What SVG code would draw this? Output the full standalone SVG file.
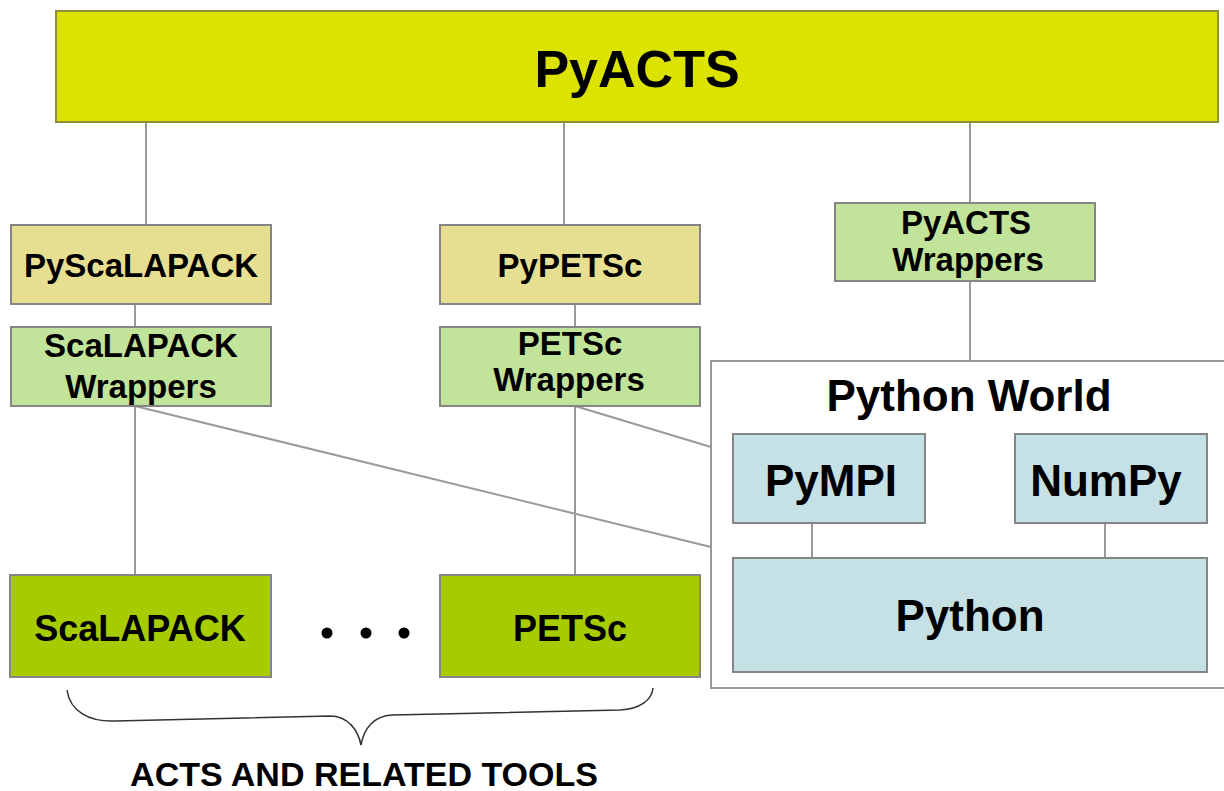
<svg xmlns="http://www.w3.org/2000/svg" width="1224" height="791" viewBox="0 0 1224 791">
<style>
.box{stroke:#858585;stroke-width:2}
.top{fill:#dce300;stroke:#8f8f3a;stroke-width:2}
.py{fill:#e6df91}
.wr{fill:#c2e49a}
.tool{fill:#a6cc00}
.pw{fill:#c5e1e5}
.world{fill:#ffffff;stroke:#9a9a9a;stroke-width:2}
.conn line, .conn path{stroke:#9a9a9a;stroke-width:2;fill:none}
text{font-family:"Liberation Sans",Arial,sans-serif;font-weight:bold;fill:#000;text-anchor:middle}
.t33{font-size:33px}
.t36{font-size:36px}
.t44{font-size:44px}
</style>
<rect width="1224" height="791" fill="#ffffff"/>
<g id="python-world">
<rect class="world" x="711" y="361" width="520" height="327"/>
<text class="t44" x="969" y="411">Python World</text>
</g>
<g class="conn" id="connectors">
<line x1="146" y1="123" x2="146" y2="225"/>
<line x1="564" y1="123" x2="564" y2="225"/>
<line x1="970" y1="123" x2="970" y2="203"/>
<line x1="135" y1="304" x2="135" y2="327"/>
<line x1="575" y1="304" x2="575" y2="327"/>
<line x1="135" y1="406" x2="135" y2="575"/>
<line x1="575" y1="406" x2="575" y2="575"/>
<line x1="970" y1="281" x2="970" y2="361"/>
<line x1="135" y1="406" x2="711" y2="547"/>
<line x1="575" y1="406" x2="711" y2="447"/>
<line x1="812" y1="523" x2="812" y2="558"/>
<line x1="1105" y1="523" x2="1105" y2="558"/>
</g>
<g id="pyacts">
<rect class="top" x="56" y="11" width="1162" height="111"/>
<text x="637" y="87" style="font-size:52px">PyACTS</text>
</g>
<g id="pyscalapack">
<rect class="box py" x="11" y="225" width="260" height="79"/>
<text class="t33" x="141" y="277">PyScaLAPACK</text>
</g>
<g id="pypetsc">
<rect class="box py" x="440" y="225" width="260" height="79"/>
<text class="t33" x="570" y="277">PyPETSc</text>
</g>
<g id="pyacts-wrappers">
<rect class="box wr" x="835" y="203" width="260" height="78"/>
<text class="t33" x="966" y="234">PyACTS</text>
<text class="t33" x="968" y="271">Wrappers</text>
</g>
<g id="scalapack-wrappers">
<rect class="box wr" x="11" y="327" width="260" height="79"/>
<text class="t33" x="141" y="357">ScaLAPACK</text>
<text class="t33" x="141" y="398">Wrappers</text>
</g>
<g id="petsc-wrappers">
<rect class="box wr" x="440" y="327" width="260" height="79"/>
<text class="t33" x="570" y="355">PETSc</text>
<text class="t33" x="569" y="391">Wrappers</text>
</g>
<g id="scalapack">
<rect class="box tool" x="10" y="575" width="261" height="102"/>
<text class="t36" x="140" y="641">ScaLAPACK</text>
</g>
<g id="ellipsis">
<circle cx="327" cy="633" r="5.5" fill="#000"/>
<circle cx="366" cy="633" r="5.5" fill="#000"/>
<circle cx="404" cy="633" r="5.5" fill="#000"/>
</g>
<g id="petsc">
<rect class="box tool" x="440" y="575" width="260" height="102"/>
<text class="t36" x="570" y="641">PETSc</text>
</g>
<g id="pympi">
<rect class="box pw" x="733" y="434" width="192" height="89"/>
<text class="t44" x="831" y="496">PyMPI</text>
</g>
<g id="numpy">
<rect class="box pw" x="1015" y="434" width="192" height="89"/>
<text class="t44" x="1106" y="496">NumPy</text>
</g>
<g id="python">
<rect class="box pw" x="733" y="558" width="474" height="114"/>
<text class="t44" x="970" y="631">Python</text>
</g>
<g id="acts-brace">
<path d="M67,690 C70,712 90,722 115,721 L330,716 C348,716 358,730 361,745 C364,728 374,716 392,715 L620,710 C640,709 652,700 653,688" fill="none" stroke="#333" stroke-width="1.5"/>
<text x="364" y="786" style="font-size:34px">ACTS AND RELATED TOOLS</text>
</g>
</svg>
